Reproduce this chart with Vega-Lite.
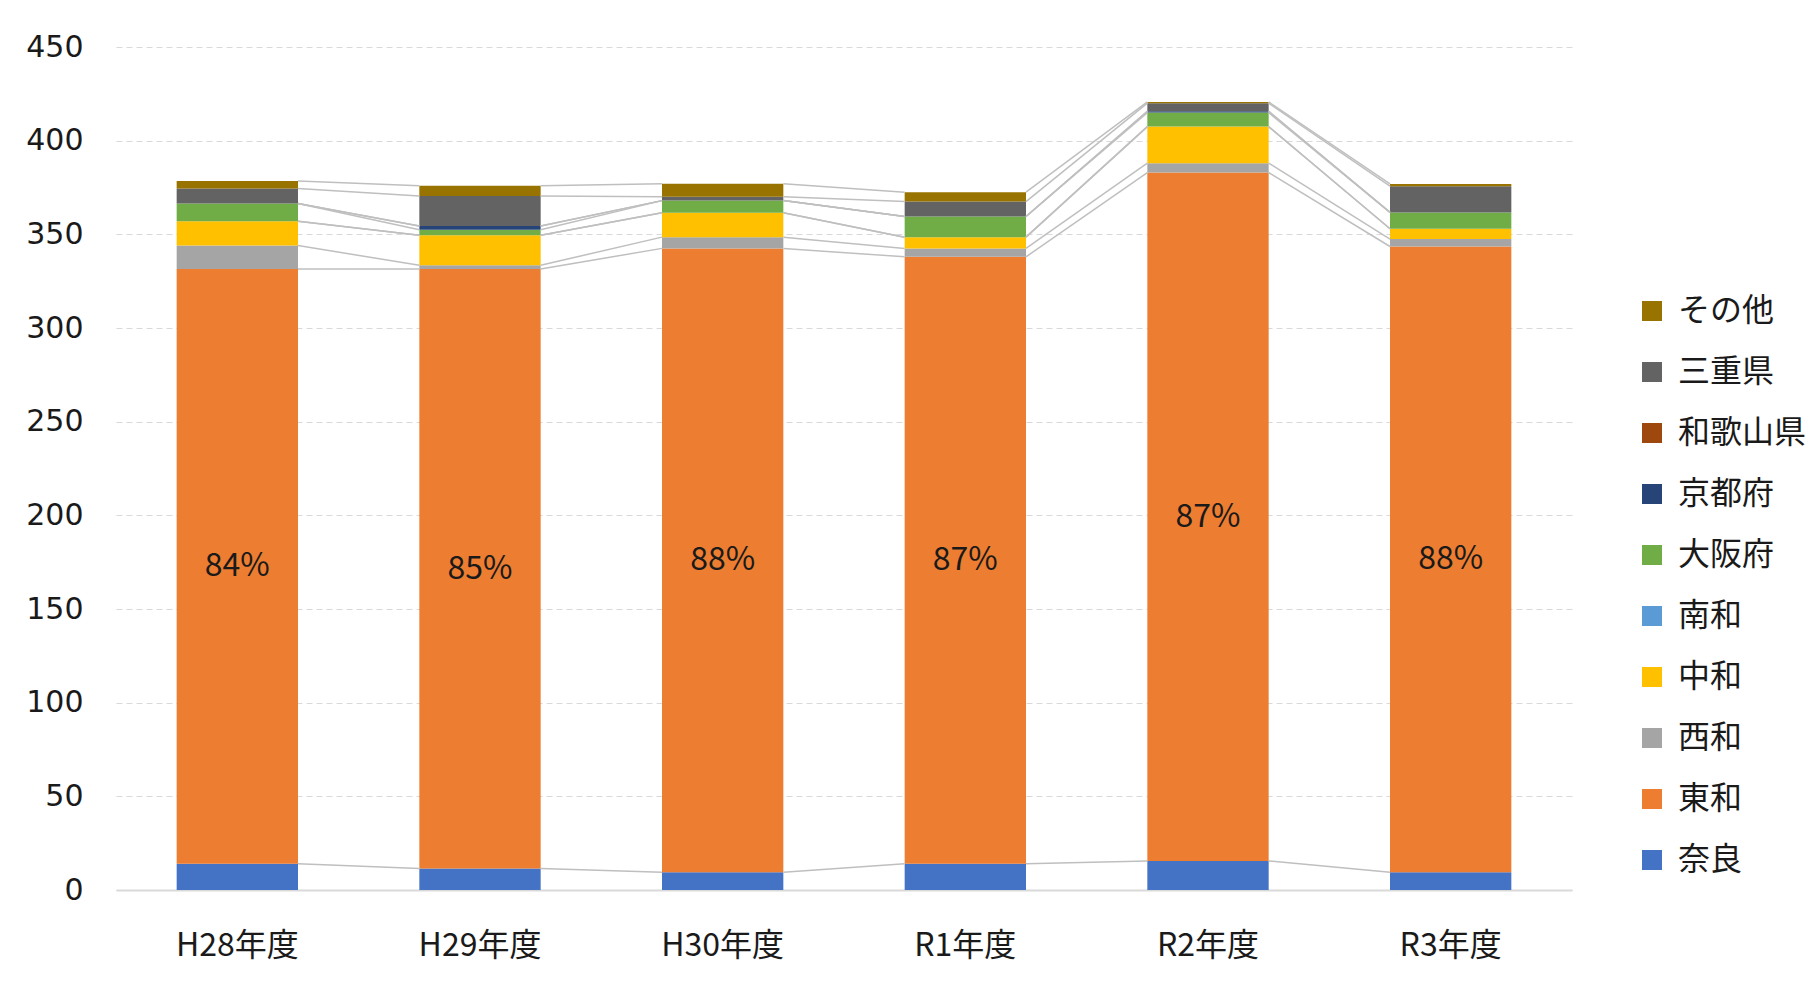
{
  "$schema": "https://vega.github.io/schema/vega-lite/v6.json",
  "width": 1456,
  "height": 843,
  "autosize": {"type": "none"},
  "padding": {"left": 116, "top": 47, "right": 245, "bottom": 97},
  "background": "white",
  "config": {"view": {"stroke": null}},
  "datasets": {
    "series": [
      {"name": "奈良", "rank": 1},
      {"name": "東和", "rank": 2},
      {"name": "西和", "rank": 3},
      {"name": "中和", "rank": 4},
      {"name": "南和", "rank": 5},
      {"name": "大阪府", "rank": 6},
      {"name": "京都府", "rank": 7},
      {"name": "和歌山県", "rank": 8},
      {"name": "三重県", "rank": 9},
      {"name": "その他", "rank": 10}
    ]
  },
  "data": {
    "values": [
      {"year": "H28年度", "category": "奈良", "value": 14},
      {"year": "H28年度", "category": "東和", "value": 317.5, "label": "84%"},
      {"year": "H28年度", "category": "西和", "value": 12.5},
      {"year": "H28年度", "category": "中和", "value": 13},
      {"year": "H28年度", "category": "南和", "value": 0},
      {"year": "H28年度", "category": "大阪府", "value": 9.5},
      {"year": "H28年度", "category": "京都府", "value": 0},
      {"year": "H28年度", "category": "和歌山県", "value": 0},
      {"year": "H28年度", "category": "三重県", "value": 8},
      {"year": "H28年度", "category": "その他", "value": 4},
      {"year": "H29年度", "category": "奈良", "value": 11.5},
      {"year": "H29年度", "category": "東和", "value": 320, "label": "85%"},
      {"year": "H29年度", "category": "西和", "value": 2},
      {"year": "H29年度", "category": "中和", "value": 16},
      {"year": "H29年度", "category": "南和", "value": 0},
      {"year": "H29年度", "category": "大阪府", "value": 3},
      {"year": "H29年度", "category": "京都府", "value": 2},
      {"year": "H29年度", "category": "和歌山県", "value": 0},
      {"year": "H29年度", "category": "三重県", "value": 16},
      {"year": "H29年度", "category": "その他", "value": 5.5},
      {"year": "H30年度", "category": "奈良", "value": 9.5},
      {"year": "H30年度", "category": "東和", "value": 333, "label": "88%"},
      {"year": "H30年度", "category": "西和", "value": 6},
      {"year": "H30年度", "category": "中和", "value": 13},
      {"year": "H30年度", "category": "南和", "value": 0},
      {"year": "H30年度", "category": "大阪府", "value": 6.5},
      {"year": "H30年度", "category": "京都府", "value": 0},
      {"year": "H30年度", "category": "和歌山県", "value": 0},
      {"year": "H30年度", "category": "三重県", "value": 2},
      {"year": "H30年度", "category": "その他", "value": 7},
      {"year": "R1年度", "category": "奈良", "value": 14},
      {"year": "R1年度", "category": "東和", "value": 324, "label": "87%"},
      {"year": "R1年度", "category": "西和", "value": 4.5},
      {"year": "R1年度", "category": "中和", "value": 6},
      {"year": "R1年度", "category": "南和", "value": 0},
      {"year": "R1年度", "category": "大阪府", "value": 11},
      {"year": "R1年度", "category": "京都府", "value": 0},
      {"year": "R1年度", "category": "和歌山県", "value": 0},
      {"year": "R1年度", "category": "三重県", "value": 8},
      {"year": "R1年度", "category": "その他", "value": 5},
      {"year": "R2年度", "category": "奈良", "value": 15.5},
      {"year": "R2年度", "category": "東和", "value": 367.5, "label": "87%"},
      {"year": "R2年度", "category": "西和", "value": 5},
      {"year": "R2年度", "category": "中和", "value": 19.5},
      {"year": "R2年度", "category": "南和", "value": 0},
      {"year": "R2年度", "category": "大阪府", "value": 7.5},
      {"year": "R2年度", "category": "京都府", "value": 0.7},
      {"year": "R2年度", "category": "和歌山県", "value": 0},
      {"year": "R2年度", "category": "三重県", "value": 4.3},
      {"year": "R2年度", "category": "その他", "value": 0.7},
      {"year": "R3年度", "category": "奈良", "value": 9.5},
      {"year": "R3年度", "category": "東和", "value": 334, "label": "88%"},
      {"year": "R3年度", "category": "西和", "value": 4},
      {"year": "R3年度", "category": "中和", "value": 5.5},
      {"year": "R3年度", "category": "南和", "value": 0},
      {"year": "R3年度", "category": "大阪府", "value": 8.7},
      {"year": "R3年度", "category": "京都府", "value": 0},
      {"year": "R3年度", "category": "和歌山県", "value": 0},
      {"year": "R3年度", "category": "三重県", "value": 14},
      {"year": "R3年度", "category": "その他", "value": 1.2}
    ]
  },
  "transform": [
    {"lookup": "category", "from": {"data": {"name": "series"}, "key": "name", "fields": ["rank"]}},
    {"stack": "value", "groupby": ["year"], "sort": [{"field": "rank", "order": "ascending"}], "as": ["v0", "v1"]}
  ],
  "encoding": {
    "x": {
      "field": "year",
      "type": "nominal",
      "sort": ["H28年度", "H29年度", "H30年度", "R1年度", "R2年度", "R3年度"],
      "scale": {"paddingInner": 0, "paddingOuter": 0},
      "axis": {
        "title": null,
        "labelAngle": 0,
        "ticks": false,
        "domain": true,
        "domainColor": "#D9D9D9",
        "domainWidth": 2,
        "labelFont": "Noto Sans CJK JP",
        "labelFontSize": 32,
        "labelColor": "#1a1a1a",
        "labelPadding": 40
      }
    }
  },
  "layer": [
    {
      "mark": {"type": "bar", "width": {"band": 0.5}},
      "encoding": {
        "y": {
          "field": "v0",
          "type": "quantitative",
          "scale": {"domain": [0, 450], "nice": false},
          "axis": {
            "title": null,
            "values": [0, 50, 100, 150, 200, 250, 300, 350, 400, 450],
            "domain": false,
            "ticks": false,
            "grid": true,
            "gridColor": "#D9D9D9",
            "gridDash": [6, 4],
            "gridWidth": 1,
            "labelFont": "DejaVu Sans",
            "labelFontSize": 30,
            "labelColor": "#1a1a1a",
            "labelPadding": 33
          }
        },
        "y2": {"field": "v1"},
        "color": {
          "field": "category",
          "type": "nominal",
          "scale": {
            "domain": ["その他", "三重県", "和歌山県", "京都府", "大阪府", "南和", "中和", "西和", "東和", "奈良"],
            "range": ["#997300", "#636363", "#9E480E", "#264478", "#70AD47", "#5B9BD5", "#FFC000", "#A5A5A5", "#ED7D31", "#4472C4"]
          },
          "legend": {
            "title": null,
            "orient": "none",
            "legendX": 1520,
            "legendY": 248,
            "symbolType": "square",
            "symbolSize": 400,
            "symbolStrokeWidth": 0,
            "labelFont": "Noto Sans CJK JP",
            "labelFontSize": 32,
            "labelColor": "#1a1a1a",
            "labelOffset": 10,
            "rowPadding": 29,
            "labelLimit": 300
          }
        }
      }
    },
    {
      "transform": [
        {"window": [{"op": "lead", "field": "v1", "as": "nv1"}, {"op": "lead", "field": "year", "as": "nyear"}], "groupby": ["category"], "sort": [{"field": "year", "order": "ascending"}]},
        {"filter": "datum.nyear != null"}
      ],
      "mark": {"type": "rule", "color": "#BFBFBF", "strokeWidth": 1.5},
      "encoding": {
        "x": {"field": "year", "type": "nominal", "bandPosition": 0.75},
        "x2": {"field": "nyear", "bandPosition": 0.25},
        "y": {"field": "v1", "type": "quantitative"},
        "y2": {"field": "nv1"}
      }
    },
    {
      "transform": [
        {"filter": {"field": "category", "equal": "東和"}},
        {"fold": ["v0", "v1"], "as": ["k", "pos"]}
      ],
      "mark": {"type": "text", "font": "Noto Sans CJK JP", "fontSize": 32, "color": "#1a1a1a", "baseline": "middle", "align": "center"},
      "encoding": {
        "y": {"aggregate": "mean", "field": "pos", "type": "quantitative"},
        "text": {"field": "label", "type": "nominal"}
      }
    }
  ]
}
